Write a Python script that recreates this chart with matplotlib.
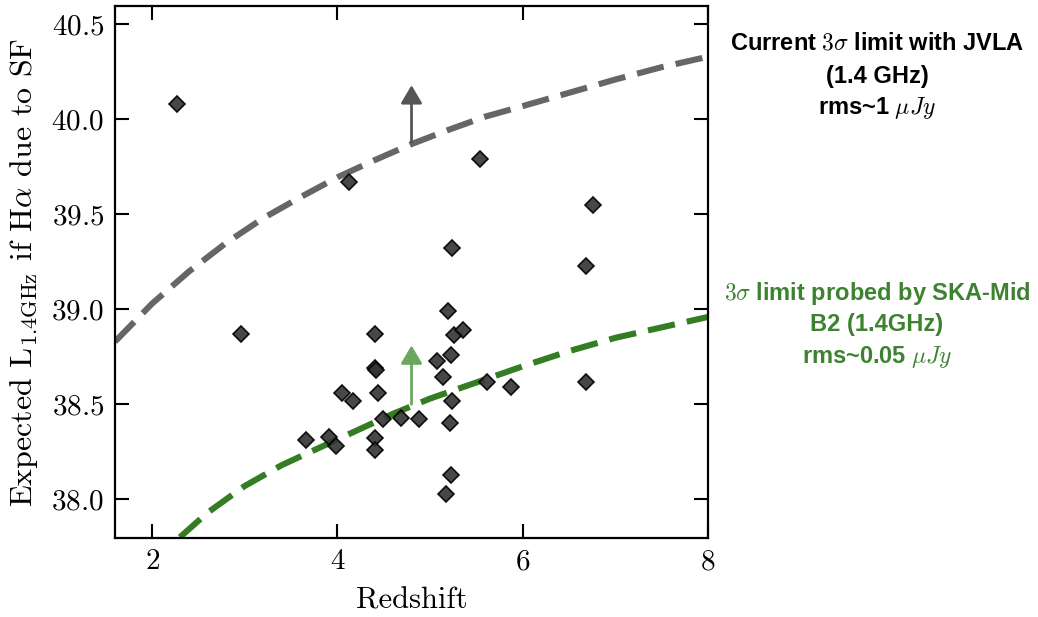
import matplotlib
matplotlib.use("Agg")
import matplotlib.pyplot as plt

# galaxies: redshift and expected L_1.4GHz from Halpha SFR
redshift = [2.27, 2.96, 4.13, 5.54, 6.76, 5.24, 6.68,
            3.66, 3.91, 3.99, 4.05, 4.17, 4.41, 4.41, 4.42, 4.44, 4.49,
            4.41, 4.41, 4.69, 4.88, 5.08, 5.14, 5.19, 5.23, 5.26, 5.36,
            5.24, 5.21, 5.23, 5.17, 5.61, 5.87, 6.68]
lum = [40.08, 38.87, 39.67, 39.79, 39.55, 39.325, 39.23,
       38.31, 38.33, 38.28, 38.56, 38.52, 38.87, 38.69, 38.68, 38.56, 38.42,
       38.32, 38.26, 38.43, 38.42, 38.73, 38.646, 38.99, 38.757, 38.865, 38.89,
       38.52, 38.40, 38.13, 38.03, 38.62, 38.59, 38.62]

# 3 sigma limit curves
jvla_z = [1.6, 2.0, 2.4, 2.8, 3.2, 3.6, 4.0, 4.4, 4.8, 5.2, 5.6, 6.0,
          6.5, 7.0, 7.5, 8.0]
jvla_lim = [38.83, 39.03, 39.20, 39.35, 39.48, 39.59, 39.695, 39.785, 39.87,
            39.945, 40.015, 40.07, 40.14, 40.21, 40.275, 40.33]
ska_z = [2.3, 2.6, 3.0, 3.4, 3.8, 4.2, 4.6, 5.0, 5.5, 6.0, 6.5, 7.0, 7.5, 8.0]
ska_lim = [37.80, 37.93, 38.07, 38.18, 38.27, 38.36, 38.45, 38.53, 38.615,
           38.70, 38.78, 38.85, 38.905, 38.96]

arrow_z = 4.8
jvla_arrow = (39.88, 40.18)
ska_arrow = (38.50, 38.81)

plt.rcParams['font.family'] = 'serif'
plt.rcParams['font.serif'] = ['cmr10']
plt.rcParams['mathtext.fontset'] = 'cm'
plt.rcParams['axes.formatter.use_mathtext'] = True

fig = plt.figure(figsize=(10.38, 6.17), dpi=100)
ax = fig.add_axes([0.1108, 0.128, 0.5713, 0.862])

ax.plot(jvla_z, jvla_lim, color='#666666', lw=4.4, dashes=(4.5, 2.0),
        dash_joinstyle='round')
ax.plot(ska_z, ska_lim, color='#347d22', lw=4.4, dashes=(4.5, 2.0),
        dash_joinstyle='round')

ax.annotate('', xy=(arrow_z, jvla_arrow[1]), xytext=(arrow_z, jvla_arrow[0]),
            arrowprops=dict(arrowstyle='-|>,head_length=1.1,head_width=0.65',
                            color='#555555', lw=2, mutation_scale=10,
                            shrinkA=0, shrinkB=0))
ax.annotate('', xy=(arrow_z, ska_arrow[1]), xytext=(arrow_z, ska_arrow[0]),
            arrowprops=dict(arrowstyle='-|>,head_length=1.1,head_width=0.65',
                            color='#6aa85f', lw=2, mutation_scale=10,
                            shrinkA=0, shrinkB=0))

ax.plot(redshift, lum, 'D', ls='none', ms=8, mfc='#333333', mec='black',
        mew=1.2, alpha=0.9)

ax.set_xlim(1.6, 8.0)
ax.set_ylim(37.796, 40.596)
ax.set_xticks([2, 4, 6, 8])
ax.set_yticks([38.0, 38.5, 39.0, 39.5, 40.0, 40.5])
ax.tick_params(direction='in', top=True, right=True, length=10, width=1.5,
               labelsize=21, pad=8)
for s in ax.spines.values():
    s.set_linewidth(1.6)

ax.set_xlabel('Redshift', fontsize=22, labelpad=8)
ax.set_ylabel(r'Expected $\mathrm{L_{1.4GHz}}$ if H$\alpha$ due to SF', fontsize=23, labelpad=8)

# annotations on the right
cx = 877 / 1038
txt = dict(ha='center', va='center', family='Liberation Sans', weight='bold', size=17)
fig.text(cx, 1 - 43 / 617, r'Current $3\sigma$ limit with JVLA', color='black', **txt)
fig.text(cx, 1 - 76 / 617, '(1.4 GHz)', color='black', **txt)
fig.text(cx, 1 - 108 / 617, r'rms~1 $\mu Jy$', color='black', **txt)

green = '#3d8230'
fig.text(cx, 1 - 293 / 617, r'$3\sigma$ limit probed by SKA-Mid', color=green, **txt)
fig.text(cx, 1 - 325 / 617, 'B2 (1.4GHz)', color=green, **txt)
fig.text(cx, 1 - 357 / 617, r'rms~0.05 $\mu Jy$', color=green, **txt)

fig.savefig('out.png', dpi=100)
